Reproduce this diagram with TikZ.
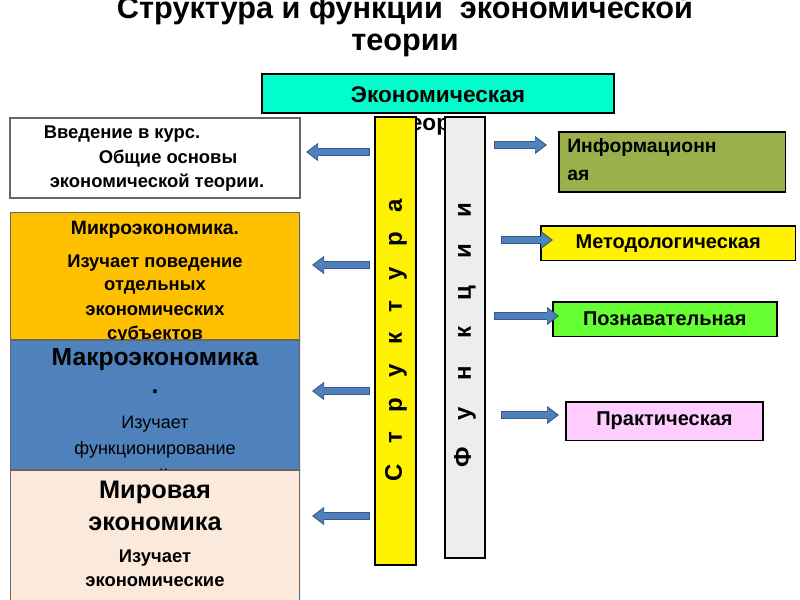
\documentclass[tikz,border=0pt]{standalone}
\usepackage{fontspec}
\setmainfont{Liberation Sans}
\usetikzlibrary{arrows.meta}
\begin{document}
\begin{tikzpicture}[x=0.75pt,y=-0.75pt,
  lbox/.style={draw=black!60,line width=1pt},
  rbox/.style={draw=black,line width=1.2pt,font=\bfseries\fontsize{15}{17}\selectfont},
  col/.style={draw=black,line width=1.2pt},
  tl/.style={inner sep=0pt,font=\bfseries\fontsize{13.8}{15}\selectfont},
  tn/.style={inner sep=0pt,font=\fontsize{13.5}{15}\selectfont},
  th/.style={inner sep=0pt,font=\bfseries\fontsize{18.5}{20}\selectfont}]
\useasboundingbox (0,0) rectangle (800,600);
\definecolor{teal1}{HTML}{00FFCC}
\definecolor{orng}{HTML}{FFC000}
\definecolor{bluee}{HTML}{4F81BD}
\definecolor{peach}{HTML}{FBEADC}
\definecolor{olive}{HTML}{9BB04A}
\definecolor{grn}{HTML}{66FF33}
\definecolor{pnk}{HTML}{FFCCFF}
\definecolor{arrb}{HTML}{4F81BD}
\tikzset{barrow/.style={draw=arrb!70!black,line width=6pt,-{Triangle[length=9pt,width=13pt]}},
 barrowin/.style={draw=arrb,line width=4pt,-{Triangle[length=7.5pt,width=10.5pt]},shorten >=1.3pt,shorten <=0.9pt}}
% title
\node (t1) at (405,10) {\bfseries\fontsize{23}{26}\selectfont Структура и функции\ \ экономической};
\node (t2) at (405,45) {\bfseries\fontsize{23}{26}\selectfont теории};
% teal box
\node[draw=black,line width=1.2pt,fill=teal1,minimum width=264pt,minimum height=29pt] (eco) at (438,93.5) {};
\node (ecot) at (438,95) {\bfseries\fontsize{17}{20}\selectfont Экономическая};
\node (ecot2) at (438,127) {\bfseries\fontsize{17}{20}\selectfont теория};
% columns
\draw[col,fill=yellow] (375,117) rectangle (416,565);
\node[rotate=90] (str) at (396,340) {\bfseries\fontsize{18}{20}\selectfont С\ \ \ т\ \ \ р\ \ \ у\ \ \ к\ \ \ т\ \ \ у\ \ \ р\ \ \ а};
\draw[col,fill=black!7] (445,117) rectangle (485,558);
\node[rotate=90] (fun) at (465,335) {\bfseries\fontsize{18}{20}\selectfont Ф\ \ \ \ у\ \ \ \ н\ \ \ \ к\ \ \ \ ц\ \ \ \ и\ \ \ \ и};
% left boxes
\draw[lbox,fill=white] (10,118) rectangle (300,198);
\node[tl] (b1a) at (122,134) {Введение в курс.};
\node[tl] (b1b) at (168,159) {Общие основы};
\node[tl] (b1c) at (157,183) {экономической теории.};
\begin{scope}
\clip (10,212) rectangle (300,340);
\draw[lbox,fill=orng] (10,212) rectangle (300,340);
\node[tl,font=\bfseries\fontsize{14.5}{15}\selectfont] (b2a) at (155,230) {Микроэкономика.};
\node[tl] (b2b) at (155,263) {Изучает поведение};
\node[tl] (b2c) at (155,287) {отдельных};
\node[tl] (b2d) at (155,311) {экономических};
\node[tl] (b2e) at (155,335) {субъектов};
\end{scope}
\begin{scope}
\clip (10,340) rectangle (300,470);
\draw[lbox,fill=bluee] (10,340) rectangle (300,470);
\node[th] (b3a) at (155,360) {Макроэкономика};
\node[th] (b3b) at (155,392) {.};
\node[tn] (b3c) at (155,424) {Изучает};
\node[tn] (b3d) at (155,450) {функционирование};
\node[tn] (b3e) at (155,478) {национальной экономики};
\end{scope}
\begin{scope}
\clip (10,470) rectangle (300,600);
\draw[lbox,fill=peach] (10,470) rectangle (300,610);
\node[th,font=\bfseries\fontsize{19}{20}\selectfont] (b4a) at (155,492) {Мировая};
\node[th,font=\bfseries\fontsize{19}{20}\selectfont] (b4b) at (155,524) {экономика};
\node[tl] (b4c) at (155,558) {Изучает};
\node[tl] (b4d) at (155,582) {экономические};
\end{scope}
% right boxes
\node[rbox,fill=olive,minimum width=170pt,minimum height=45pt,anchor=north west] (r1) at (558,131) {};
\node[anchor=west,inner sep=0pt,font=\bfseries\fontsize{14.5}{17}\selectfont] (r1a) at (567,147) {Информационн};
\node[anchor=west,inner sep=0pt,font=\bfseries\fontsize{14.5}{17}\selectfont] (r1b) at (567,175) {ая};
\node[rbox,fill=yellow,minimum width=191pt,minimum height=26pt,anchor=north west] (r2) at (540,225) {Методологическая};
\node[rbox,fill=grn,minimum width=168pt,minimum height=26pt,anchor=north west] (r3) at (552,301) {Познавательная};
\node[rbox,fill=pnk,minimum width=148pt,minimum height=29pt,anchor=north west] (r4) at (565,401) {Практическая};
% arrow coordinates
\coordinate (la1s) at (370,152); \coordinate (la1e) at (306,152);
\coordinate (la2s) at (370,265); \coordinate (la2e) at (312,265);
\coordinate (la3s) at (370,391); \coordinate (la3e) at (312,391);
\coordinate (la4s) at (370,516); \coordinate (la4e) at (312,516);
\coordinate (ra1s) at (494,145); \coordinate (ra1e) at (547,145);
\coordinate (ra2s) at (501,240); \coordinate (ra2e) at (553,240);
\coordinate (ra3s) at (494,316); \coordinate (ra3e) at (559,316);
\coordinate (ra4s) at (501,415); \coordinate (ra4e) at (559,415);
\foreach \a in {la1,la2,la3,la4,ra1,ra2,ra3,ra4}{
  \draw[barrow] (\a s) -- (\a e);
  \draw[barrowin] (\a s) -- (\a e);
}
\end{tikzpicture}
\end{document}
